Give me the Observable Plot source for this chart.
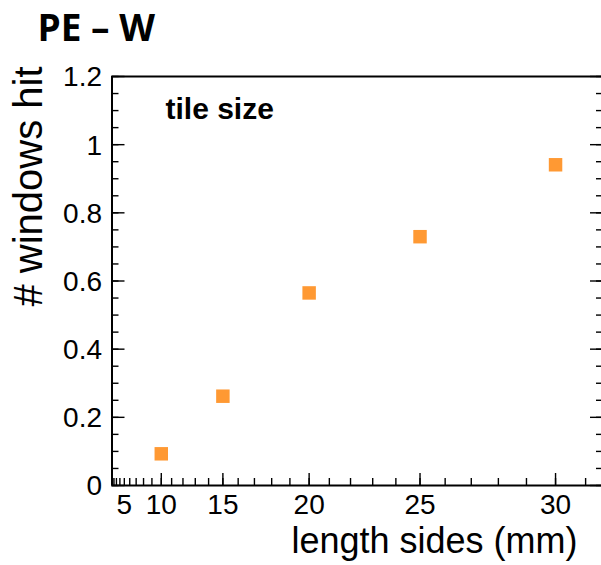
<!DOCTYPE html>
<html><head><meta charset="utf-8">
<script src="https://cdn.jsdelivr.net/npm/d3@7"></script>
<script src="https://cdn.jsdelivr.net/npm/@observablehq/plot@0.6"></script>
<style>body{margin:0;background:#fff}</style>
</head><body><div id="chart"></div>
<script>
// ---- data ----
const sides = [10, 15, 20, 25, 30];
const windowsHit = [0.093, 0.262, 0.565, 0.730, 0.941];
const xTickLabels = [5, 10, 15, 20, 25, 30];
const xMajorTicks = [10, 15, 20, 25, 30];
const xMinorTicks = d3.range(1, 32);
const yTickValues = [0, 0.2, 0.4, 0.6, 0.8, 1.0, 1.2];
const yTickLabels = ["0", "0.2", "0.4", "0.6", "0.8", "1", "1.2"];
const yMinorTicks = d3.range(0, 1.2001, 0.05);
const titleText = "PE – W";
const legendText = "tile size";
const xTitle = "length sides (mm)";
const yTitle = "# windows hit";

const points = sides.map((s, i) => ({side: s, hit: windowsHit[i]}));
const yTicks = yTickValues.map((v, i) => ({v, label: yTickLabels[i]}));

const xMax = 31.58;
const sans = "Liberation Sans, Arial, Helvetica, sans-serif";
const ink = "black";

const chart = Plot.plot({
  width: 601,
  height: 565,
  marginLeft: 111.5,
  marginRight: 0,
  marginTop: 76,
  marginBottom: 80,
  style: {fontFamily: sans, background: "white"},
  x: {type: "pow", exponent: 2, domain: [0, xMax], range: [111.5, 603], axis: null},
  y: {domain: [0, 1.2], range: [485, 76], axis: null},
  marks: [
    // frame
    Plot.ruleX([0], {stroke: ink, strokeWidth: 2}),
    Plot.ruleY([0, 1.2], {stroke: ink, strokeWidth: 2}),
    // x ticks (inward)
    Plot.ruleX(xMinorTicks, {x: d => d, y1: 0, y2: 0, insetBottom: 7, stroke: ink, strokeWidth: 1.4}),
    Plot.ruleX(xMajorTicks, {x: d => d, y1: 0, y2: 0, insetBottom: 12, stroke: ink, strokeWidth: 1.4}),
    // y ticks left
    Plot.ruleY(yMinorTicks, {y: d => d, x1: 0, x2: 0, insetLeft: 7, stroke: ink, strokeWidth: 1.4}),
    Plot.ruleY(yTickValues, {y: d => d, x1: 0, x2: 0, insetLeft: 13, stroke: ink, strokeWidth: 1.4}),
    // y ticks right
    Plot.ruleY(yMinorTicks, {y: d => d, x1: xMax, x2: xMax, insetRight: 7, stroke: ink, strokeWidth: 1.4}),
    Plot.ruleY(yTickValues, {y: d => d, x1: xMax, x2: xMax, insetRight: 13, stroke: ink, strokeWidth: 1.4}),
    // tick labels
    Plot.text(xTickLabels, {x: d => d, y: () => 0, text: d => String(d), dy: 20, lineAnchor: "middle", textAnchor: "middle", fontSize: 28, fill: ink}),
    Plot.text(yTicks, {x: () => 0, y: "v", text: "label", dx: -10, dy: 1, lineAnchor: "middle", textAnchor: "end", fontSize: 28, fill: ink}),
    // data
    Plot.dot(points, {x: "side", y: "hit", symbol: "square", r: 7.6, fill: "#ff9933", stroke: null}),
    // texts
    Plot.text([titleText], {frameAnchor: "top-left", dx: 37 - 111.5, dy: -47.8, textAnchor: "start", lineAnchor: "middle", fontSize: 37, fontWeight: "bold", fontFamily: "Open Sans, sans-serif", fill: ink}),
    Plot.text([legendText], {frameAnchor: "top-left", dx: 53.5, dy: 33, textAnchor: "start", lineAnchor: "middle", fontSize: 30, fontWeight: "bold", fill: ink}),
    Plot.text([xTitle], {frameAnchor: "bottom-right", dx: -24, dy: 55.5, textAnchor: "end", lineAnchor: "middle", fontSize: 36, fill: ink}),
    Plot.text([yTitle], {frameAnchor: "left", dx: -83, dy: -94.5, rotate: -90, textAnchor: "middle", lineAnchor: "middle", fontSize: 40, fill: ink})
  ]
});
document.getElementById("chart").appendChild(chart);
</script>
</body></html>
